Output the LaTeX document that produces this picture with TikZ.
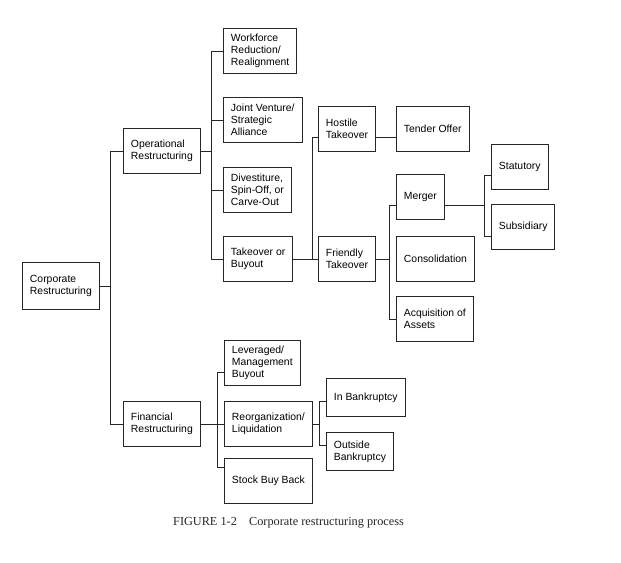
\documentclass[tikz,border=0pt]{standalone}
\usepackage{fontspec}
\newfontfamily\boxfont{Liberation Sans}
\newfontfamily\capfont{Liberation Serif}
\usetikzlibrary{calc}
\begin{document}
\begin{tikzpicture}[x=0.75pt,y=0.75pt,yscale=-1,xscale=1,
  blk/.style={draw=black!85, line width=0.75pt, align=left, anchor=north west, inner xsep=5.6pt, inner ysep=0pt,
    minimum height=33.75pt, font=\boxfont\fontsize{7.8}{9}\selectfont},
  lnk/.style={draw=black!85, line width=0.7pt}]
%set diagram size to 621 x 563
\fill[white] (0,0) rectangle (621,563);
\useasboundingbox (0,0) rectangle (621,563);

% Text Node
\node[blk, minimum height=35.25pt] (corp) at (22,262) {Corporate\\Restructuring};
% Text Node
\node[blk] (oper) at (123,128) {Operational\\Restructuring};
% Text Node
\node[blk] (fin) at (123,401) {Financial\\Restructuring};

% Text Node
\node[blk] (work) at (223,28) {Workforce\\Reduction/\\Realignment};
% Text Node
\node[blk] (joint) at (223,97) {Joint Venture/\\Strategic\\Alliance};
% Text Node
\node[blk] (divest) at (223,167) {Divestiture,\\Spin-Off, or\\Carve-Out};
% Text Node
\node[blk] (take) at (223,236) {Takeover or\\Buyout};

% Text Node
\node[blk] (hostile) at (318,106) {Hostile\\Takeover};
% Text Node
\node[blk] (tender) at (396,106) {Tender Offer};
% Text Node
\node[blk] (friendly) at (318,236) {Friendly\\Takeover};
% Text Node
\node[blk] (merger) at (396,174) {Merger};
% Text Node
\node[blk] (consol) at (396,236) {Consolidation};
% Text Node
\node[blk] (acq) at (396,296) {Acquisition of\\Assets};
% Text Node
\node[blk] (stat) at (491,144) {Statutory};
% Text Node
\node[blk] (subs) at (491,204) {Subsidiary};

% Text Node
\node[blk] (lever) at (224,340) {Leveraged/\\Management\\Buyout};
% Text Node
\node[blk] (reorg) at (224,401) {Reorganization/\\Liquidation};
% Text Node
\node[blk] (stock) at (224,458) {Stock Buy Back};
% Text Node
\node[blk, minimum height=28.5pt] (inbank) at (326,378) {In Bankruptcy};
% Text Node
\node[blk, minimum height=28.5pt] (outside) at (326,432) {Outside\\Bankruptcy};

% Caption
\node[font=\capfont\fontsize{9.2}{11}\selectfont, text=black!85] (cap) at (288.5,523) {FIGURE 1-2\quad Corporate restructuring process};

%Bus lines
\coordinate (trunk) at (110,0);
\coordinate (opbus) at (211,0);
\coordinate (tobus) at (312,0);
\coordinate (frbus) at (389,0);
\coordinate (mgbus) at (484,0);
\coordinate (fibus) at (217,0);
\coordinate (rebus) at (319,0);

%Stub points off centre
\coordinate (hostileL) at ($(hostile.west)+(0,8)$);
\coordinate (hostileR) at ($(hostile.east)+(0,8)$);
\coordinate (mergerL) at ($(merger.west)+(0,8)$);
\coordinate (mergerR) at ($(merger.east)+(0,8)$);
\coordinate (statL) at ($(stat.west)+(0,8)$);
\coordinate (subsL) at ($(subs.west)+(0,9)$);
\coordinate (leverL) at ($(lever.west)+(0,9)$);
\coordinate (stockL) at ($(stock.west)+(0,-14)$);
\coordinate (inbankL) at ($(inbank.west)+(0,4)$);
\coordinate (outsideL) at ($(outside.west)+(0,-6)$);

%Straight Lines
\draw[lnk] (corp.east) -- (corp.east -| trunk);
\draw[lnk] (oper.west) -| (fin.west -| trunk) -- (fin.west);

%Straight Lines
\draw[lnk] (oper.east) -- (oper.east -| opbus);
\draw[lnk] (work.west) -| (take.west -| opbus) -- (take.west);
\draw[lnk] (joint.west) -- (joint.west -| opbus);
\draw[lnk] (divest.west) -- (divest.west -| opbus);

%Straight Lines
\draw[lnk] (take.east) -- (take.east -| tobus);
\draw[lnk] (hostileL) -| (friendly.west -| tobus) -- (friendly.west);
\draw[lnk] (hostileR) -- (hostileR -| tender.west);

%Straight Lines
\draw[lnk] (friendly.east) -- (friendly.east -| frbus);
\draw[lnk] (mergerL) -| (acq.west -| frbus) -- (acq.west);
\draw[lnk] (mergerR) -- (mergerR -| mgbus);
\draw[lnk] (statL) -| (subsL -| mgbus) -- (subsL);

%Straight Lines
\draw[lnk] (fin.east) -- (fin.east -| fibus);
\draw[lnk] (leverL) -| (stockL -| fibus) -- (stockL);
\draw[lnk] (reorg.west) -- (reorg.west -| fibus);

%Straight Lines
\draw[lnk] (reorg.east) -- (reorg.east -| rebus);
\draw[lnk] (inbankL) -| (outsideL -| rebus) -- (outsideL);

\end{tikzpicture}
\end{document}
